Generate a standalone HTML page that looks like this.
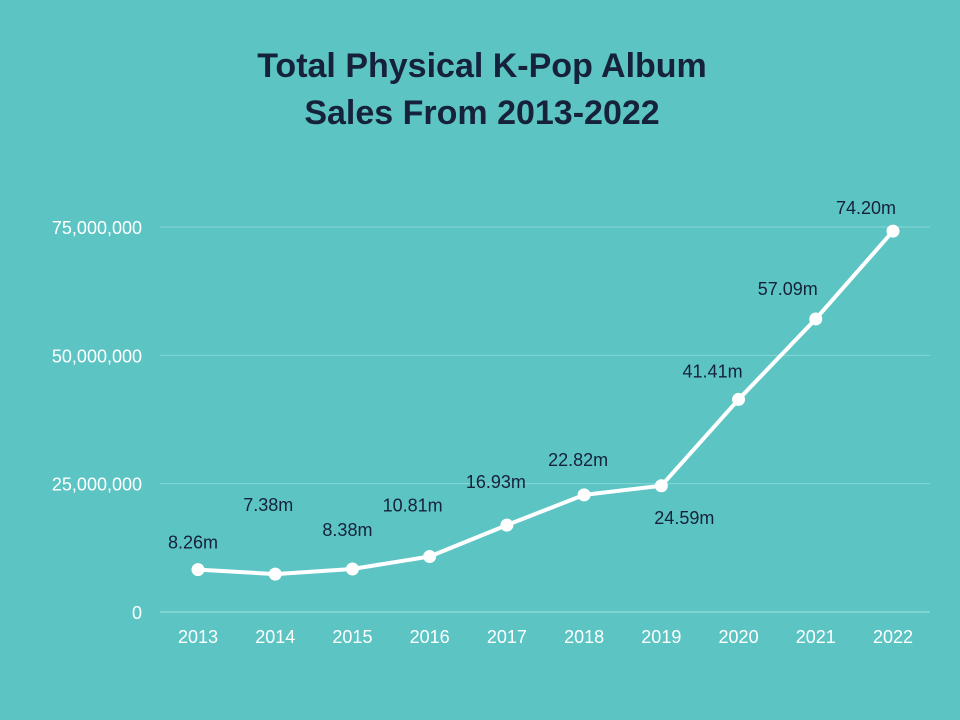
<!DOCTYPE html>
<html><head><meta charset="utf-8">
<style>
html,body{margin:0;padding:0;}
body{width:960px;height:720px;background:#5cc5c4;overflow:hidden;font-family:"Liberation Sans",sans-serif;}
svg{display:block;}
</style></head>
<body>
<svg width="960" height="720">
  <text x="482" y="77" text-anchor="middle" font-size="34" font-weight="bold" fill="#16213a">Total Physical K-Pop Album</text>
  <text x="482" y="124" text-anchor="middle" font-size="34" font-weight="bold" fill="#16213a">Sales From 2013-2022</text>
  <g id="grid"></g>
  <g id="yticks"></g>
  <g id="xticks"></g>
  <path id="line" fill="none" stroke="#fff" stroke-width="4" stroke-linejoin="round"/>
  <g id="points"></g>
  <g id="labels"></g>
</svg>
<script>
const categories = ["2013","2014","2015","2016","2017","2018","2019","2020","2021","2022"];
const salesValues = [8.26,7.38,8.38,10.81,16.93,22.82,24.59,41.41,57.09,74.20];
const valueLabels = ["8.26m","7.38m","8.38m","10.81m","16.93m","22.82m","24.59m","41.41m","57.09m","74.20m"];
const yTickValues = [0,25000000,50000000,75000000];
const yTickLabels = ["0","25,000,000","50,000,000","75,000,000"];

const NS="http://www.w3.org/2000/svg";
const x0=198, xStep=(893-198)/9, yBase=612, yPer75=385;
const xScale=i=>x0+i*xStep;
const yScale=v=>yBase-v/75000000*yPer75;
// label offsets (layout only)
const lblDx=[-5,-7,-5,-17,-11,-6,23,-26,-28,-27];
const lblDy=[-21,-63,-33,-45,-37,-29,38,-22,-24,-17];
function mk(tag,attrs,parent){const e=document.createElementNS(NS,tag);for(const k in attrs)e.setAttribute(k,attrs[k]);parent.appendChild(e);return e;}

const grid=document.getElementById('grid'), yt=document.getElementById('yticks'), xt=document.getElementById('xticks');
yTickValues.forEach((v,i)=>{
  const y=yScale(v);
  const ln=mk('line',{x1:160,x2:930,y1:y,y2:y,stroke:i===0?'#a8e3e2':'#86d6d5','stroke-width':1},grid);
  
  
  const t=mk('text',{x:142,y:y+7,'text-anchor':'end','font-size':18,fill:'#ffffff'},yt);
  t.textContent=yTickLabels[i];
  
  
});
categories.forEach((c,i)=>{
  const t=mk('text',{x:xScale(i),y:643,'text-anchor':'middle','font-size':18,fill:'#ffffff'},xt);
  t.textContent=c;
  
  
});
let d='';
salesValues.forEach((v,i)=>{d+=(i?'L':'M')+xScale(i)+','+yScale(v*1e6);});
document.getElementById('line').setAttribute('d',d);
const pts=document.getElementById('points'), lbls=document.getElementById('labels');
salesValues.forEach((v,i)=>{
  const cx=xScale(i), cy=yScale(v*1e6);
  const p=mk('circle',{cx:cx,cy:cy,r:6.5,fill:'#fff'},pts);
  
  
  const t=mk('text',{x:cx+lblDx[i],y:cy+lblDy[i],'text-anchor':'middle','font-size':18,fill:'#16213a'},lbls);
  t.textContent=valueLabels[i];
  
  
});
</script>
</body></html>
